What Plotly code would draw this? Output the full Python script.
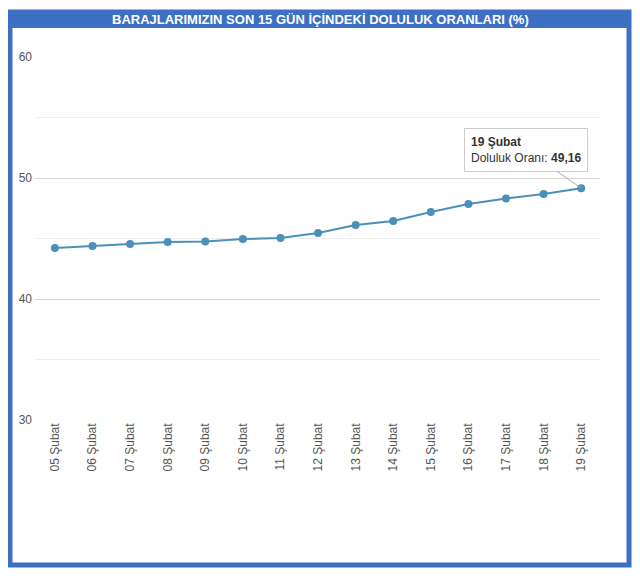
import plotly.graph_objects as go

dates = ["05 Şubat","06 Şubat","07 Şubat","08 Şubat","09 Şubat","10 Şubat","11 Şubat",
         "12 Şubat","13 Şubat","14 Şubat","15 Şubat","16 Şubat","17 Şubat","18 Şubat","19 Şubat"]
values = [44.21,44.38,44.55,44.71,44.75,44.96,45.04,45.45,46.12,46.45,47.19,47.85,48.31,48.68,49.16]
y_ticks = [30,40,50,60]

O = 8  # page body offset
W,H = 624,560
L,T = 35-O, 57-O
R = W-(600-O)
B = H-(420-O)
def px(x): return (x-O-L)/(W-L-R)
def py(y): return (H-B-(y-O))/(H-T-B)

blue = "#3d6fc2"
fig = go.Figure(go.Scatter(x=list(range(len(dates))), y=values, mode="lines+markers",
    line=dict(color="#4a90b8", width=2), marker=dict(color="#4a90b8", size=8),
    hoverinfo="skip"))

shapes = [
    dict(type="rect", xref="paper", yref="paper", x0=px(10), x1=px(629), y0=py(565), y1=py(12),
         line=dict(color=blue, width=5), layer="below"),
    dict(type="rect", xref="paper", yref="paper", x0=px(10), x1=px(629), y0=py(28), y1=py(10),
         fillcolor=blue, line=dict(width=0), layer="below"),
]
for v in [35,45,55]:
    shapes.append(dict(type="line", xref="paper", yref="y", x0=0, x1=1, y0=v, y1=v,
                       line=dict(color="#efefef", width=1), layer="below"))

fig.update_layout(
    width=W, height=H, margin=dict(l=L,r=R,t=T,b=B),
    paper_bgcolor="white", plot_bgcolor="rgba(0,0,0,0)", showlegend=False,
    font=dict(family="Liberation Sans, Arial", color="#555"),
    shapes=shapes,
    xaxis=dict(range=[-0.53,14.5], tickvals=list(range(len(dates))), ticktext=dates,
               tickangle=-90, showgrid=False, zeroline=False, tickfont=dict(size=12, color="#555"),
               ticks="", fixedrange=True),
    yaxis=dict(range=[30,60], tickvals=y_ticks, gridcolor="#d8d8d8", zeroline=False,
               tickfont=dict(size=12, color="#555"), ticklabelstandoff=2),
    annotations=[
        dict(xref="paper", yref="paper", x=px(320), y=py(19), yanchor="middle",
             text="<b>BARAJLARIMIZIN SON 15 GÜN İÇİNDEKİ DOLULUK ORANLARI (%)</b>",
             showarrow=False, font=dict(color="white", size=13)),
        dict(x=14, y=values[-1], xref="x", yref="y",
             text=f"<b>{dates[-1]}</b><br>Doluluk Oranı: <b>{str(values[-1]).replace('.',',')}</b>",
             align="left", showarrow=True, arrowhead=0, arrowcolor="#aaa", ax=-55, ay=-38,
             bgcolor="white", bordercolor="#ccc", borderwidth=1, borderpad=6,
             font=dict(size=12, color="#333")),
    ],
)
fig.write_html("out.html")
